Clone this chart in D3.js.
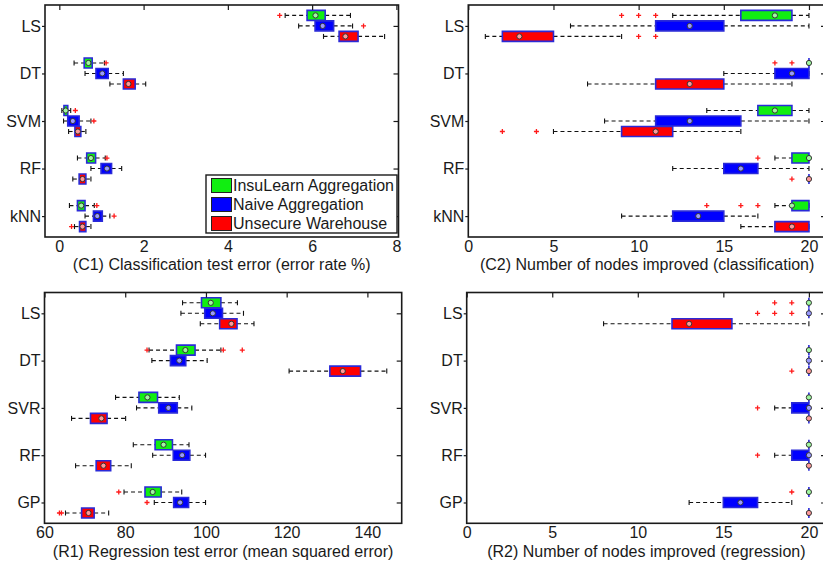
<!DOCTYPE html>
<html>
<head>
<meta charset="utf-8">
<title>Box plots</title>
<script src="https://cdn.jsdelivr.net/npm/d3@7"></script>
<style>
body { margin: 0; background: #fff; }
text { font-family: "Liberation Sans", Arial, Helvetica, sans-serif; }
</style>
</head>
<body>
<div id="container"></div>
<script>
// groups (legend) and methods
const groups = ["InsuLearn Aggregation", "Naive Aggregation", "Unsecure Warehouse"];
const groupColors = ["#11ee11", "#0000ff", "#ff0000"];
const clsMethods = ["LS", "DT", "SVM", "RF", "kNN"];
const regMethods = ["LS", "DT", "SVR", "RF", "GP"];

// each entry: [whisker low, q1, median, q3, whisker high, outliers]
// one row per method, three boxes per row (groups order)
const c1Error = [
  [[5.36, 5.88, 6.08, 6.31, 6.91, [5.23]], [5.68, 6.07, 6.25, 6.51, 6.96, [7.22]], [6.27, 6.64, 6.79, 7.09, 7.72, []]],
  [[0.35, 0.59, 0.69, 0.78, 1.07, [1.11]], [0.61, 0.87, 1.02, 1.16, 1.52, []], [1.20, 1.52, 1.64, 1.80, 2.05, []]],
  [[0.06, 0.11, 0.15, 0.20, 0.27, [0.38]], [0.10, 0.20, 0.32, 0.47, 0.75, [0.82]], [0.22, 0.37, 0.44, 0.51, 0.63, []]],
  [[0.43, 0.65, 0.75, 0.86, 1.09, [1.13]], [0.75, 0.99, 1.13, 1.24, 1.48, []], [0.32, 0.47, 0.55, 0.63, 0.75, []]],
  [[0.24, 0.43, 0.52, 0.61, 0.83, [0.89]], [0.61, 0.81, 0.90, 1.02, 1.20, [1.30]], [0.36, 0.48, 0.55, 0.63, 0.75, [0.29]]]
];
const c2Nodes = [
  [[12, 16, 18, 19, 20, [9, 10, 11]], [6, 11, 13, 15, 20, []], [1, 2, 3, 5, 9, [10, 11]]],
  [[20, 20, 20, 20, 20, [18, 19]], [15, 18, 19, 20, 20, []], [7, 11, 13, 15, 19, []]],
  [[14, 17, 18, 19, 20, []], [8, 11, 13, 16, 20, []], [5, 9, 11, 12, 16, [2, 4]]],
  [[18, 19, 20, 20, 20, [17]], [12, 15, 16, 17, 20, []], [20, 20, 20, 20, 20, [19]]],
  [[18, 19, 19, 20, 20, [14, 16, 17]], [9, 12, 13.5, 15, 17, []], [16, 18, 19, 20, 20, []]]
];
const r1Error = [
  [[94.2, 98.9, 101.2, 103.7, 107.8, []], [93.8, 99.7, 101.7, 104.1, 109.3, []], [98.6, 103.4, 106.3, 107.7, 111.9, []]],
  [[85.9, 92.7, 94.9, 97.3, 103.7, [85.4, 104.3, 109.0]], [86.6, 91.2, 93.4, 95.0, 100.3, []], [120.6, 130.7, 133.9, 138.3, 144.8, []]],
  [[77.6, 83.4, 85.5, 88.0, 93.4, []], [82.8, 88.3, 90.7, 92.9, 96.5, []], [66.7, 71.4, 74.1, 75.5, 80.1, []]],
  [[82.0, 87.4, 89.5, 91.7, 95.8, []], [86.8, 91.9, 94.1, 96.0, 99.9, []], [67.7, 72.8, 74.6, 76.4, 81.5, []]],
  [[79.7, 84.9, 86.8, 88.9, 94.0, [78.4]], [87.2, 92.0, 93.6, 95.7, 99.9, [85.4]], [65.2, 69.2, 70.9, 72.3, 75.9, [63.7, 64.2]]]
];
const r2Nodes = [
  [[20, 20, 20, 20, 20, [18, 19]], [20, 20, 20, 20, 20, [17, 18, 19]], [8, 12, 13, 15.5, 20, []]],
  [[20, 20, 20, 20, 20, []], [20, 20, 20, 20, 20, []], [20, 20, 20, 20, 20, [19]]],
  [[20, 20, 20, 20, 20, []], [18, 19, 20, 20, 20, [17]], [20, 20, 20, 20, 20, []]],
  [[20, 20, 20, 20, 20, []], [18, 19, 20, 20, 20, [17]], [20, 20, 20, 20, 20, []]],
  [[20, 20, 20, 20, 20, [19]], [13, 15, 16, 17, 19, []], [20, 20, 20, 20, 20, []]]
];

const c1Ticks = [0, 2, 4, 6, 8];
const nodeTicks = [0, 5, 10, 15, 20];
const r1Ticks = [60, 80, 100, 120, 140];

const width = 823;
const height = 561;

const svg = d3.create("svg")
  .attr("width", width)
  .attr("height", height)
  .style("display", "block");

const panels = [
  { stats: c1Error, methods: clsMethods, domain: [-0.34, 8.05], ticks: c1Ticks,
    left: 45, right: 398.5, top: 5, bottom: 237,
    title: "(C1) Classification test error (error rate %)", legend: true },
  { stats: c2Nodes, methods: clsMethods, domain: [0, 21], ticks: nodeTicks,
    left: 468.3, right: 826, top: 5, bottom: 237,
    title: "(C2) Number of nodes improved (classification)" },
  { stats: r1Error, methods: regMethods, domain: [60, 148.5], ticks: r1Ticks,
    left: 44.5, right: 401.7, top: 292.5, bottom: 523.3,
    title: "(R1) Regression test error (mean squared error)" },
  { stats: r2Nodes, methods: regMethods, domain: [0, 21], ticks: nodeTicks,
    left: 466.7, right: 826, top: 292.5, bottom: 523.3,
    title: "(R2) Number of nodes improved (regression)" }
];

const offsets = [-10.5, 0, 10.5];
const boxH = 10;
const capH = 5;

function drawPanel(p) {
  const x = d3.scaleLinear().domain(p.domain).range([p.left, p.right]);
  const y = d3.scalePoint().domain(p.methods).range([p.top, p.bottom]).padding(0.44);
  const g = svg.append("g");

  p.methods.forEach((m, i) => {
    p.stats[i].forEach((s, j) => {
      const [lo, q1, med, q3, hi, outs] = s;
      const cy = y(m) + offsets[j];

      // whiskers
      g.append("line")
        .attr("x1", x(lo)).attr("x2", x(q1)).attr("y1", cy).attr("y2", cy)
        .attr("stroke", "#111").attr("stroke-width", 1.1).attr("stroke-dasharray", "4,3");
      g.append("line")
        .attr("x1", x(q3)).attr("x2", x(hi)).attr("y1", cy).attr("y2", cy)
        .attr("stroke", "#111").attr("stroke-width", 1.1).attr("stroke-dasharray", "4,3");
      [lo, hi].forEach(v => {
        g.append("line")
          .attr("x1", x(v)).attr("x2", x(v)).attr("y1", cy - capH / 2).attr("y2", cy + capH / 2)
          .attr("stroke", "#111").attr("stroke-width", 1.1);
      });

      // box (path so a zero-width box still shows its edge)
      const x0 = x(q1), x1 = x(q3);
      g.append("path")
        .attr("d", `M${x0},${cy - boxH / 2}H${x1}V${cy + boxH / 2}H${x0}Z`)
        .attr("fill", groupColors[j])
        .attr("stroke", "#2a2ad8")
        .attr("stroke-width", 1.6);

      // outliers
      outs.forEach(v => {
        g.append("path")
          .attr("d", `M${x(v) - 2.5},${cy}H${x(v) + 2.5}M${x(v)},${cy - 2.5}V${cy + 2.5}`)
          .attr("stroke", "#ff1a1a").attr("stroke-width", 1.3);
      });

      // median
      g.append("circle")
        .attr("cx", x(med)).attr("cy", cy).attr("r", 2.6)
        .attr("fill", d3.interpolateRgb(groupColors[j], "#ffffff")(0.6))
        .attr("stroke", "#333").attr("stroke-width", 1);
    });
  });

  // frame
  svg.append("rect")
    .attr("x", p.left).attr("y", p.top)
    .attr("width", p.right - p.left).attr("height", p.bottom - p.top)
    .attr("fill", "none").attr("stroke", "#1a1a1a").attr("stroke-width", 1.6);

  // bottom tick labels
  const xb = svg.append("g")
    .attr("transform", `translate(0,${p.bottom})`)
    .call(d3.axisBottom(x).tickValues(p.ticks).tickSize(0).tickPadding(3.6));
  xb.select(".domain").remove();

  // top inward ticks
  const xt = svg.append("g")
    .attr("transform", `translate(0,${p.top})`)
    .call(d3.axisTop(x).tickValues(p.ticks).tickSize(-5).tickFormat(""));
  xt.select(".domain").remove();

  // left labels with short outward ticks
  const yl = svg.append("g")
    .attr("transform", `translate(${p.left},0)`)
    .call(d3.axisLeft(y).tickSize(3).tickPadding(1));
  yl.select(".domain").remove();

  // right inward ticks
  const yr = svg.append("g")
    .attr("transform", `translate(${p.right},0)`)
    .call(d3.axisRight(y).tickSize(-5).tickFormat(""));
  yr.select(".domain").remove();

  [xb, xt, yl, yr].forEach(a => {
    a.attr("font-size", null).attr("font-family", null);
    a.selectAll("line").attr("stroke", "#1a1a1a").attr("stroke-width", 1.2);
    a.selectAll("text").attr("fill", "#1a1a1a").style("font-size", "16px");
  });

  svg.append("text")
    .attr("x", (p.left + p.right) / 2)
    .attr("y", p.bottom + 33.2)
    .attr("text-anchor", "middle")
    .attr("fill", "#1a1a1a")
    .style("font-size", "16px")
    .text(p.title);

  if (p.legend) {
    const lg = svg.append("g").attr("transform", "translate(206,175)");
    lg.append("rect")
      .attr("width", 191).attr("height", 58)
      .attr("fill", "#fff").attr("stroke", "#1a1a1a").attr("stroke-width", 1.4);
    groups.forEach((name, k) => {
      lg.append("rect")
        .attr("x", 5.5).attr("y", 3.5 + k * 19)
        .attr("width", 20).attr("height", 14)
        .attr("fill", groupColors[k]).attr("stroke", "#222").attr("stroke-width", 1);
      lg.append("text")
        .attr("x", 27).attr("y", 10.5 + k * 19)
        .attr("dy", "0.36em")
        .attr("fill", "#1a1a1a")
        .style("font-size", "16px")
        .text(name);
    });
  }
}

panels.forEach(drawPanel);

d3.select("#container").append(() => svg.node());
</script>
</body>
</html>
